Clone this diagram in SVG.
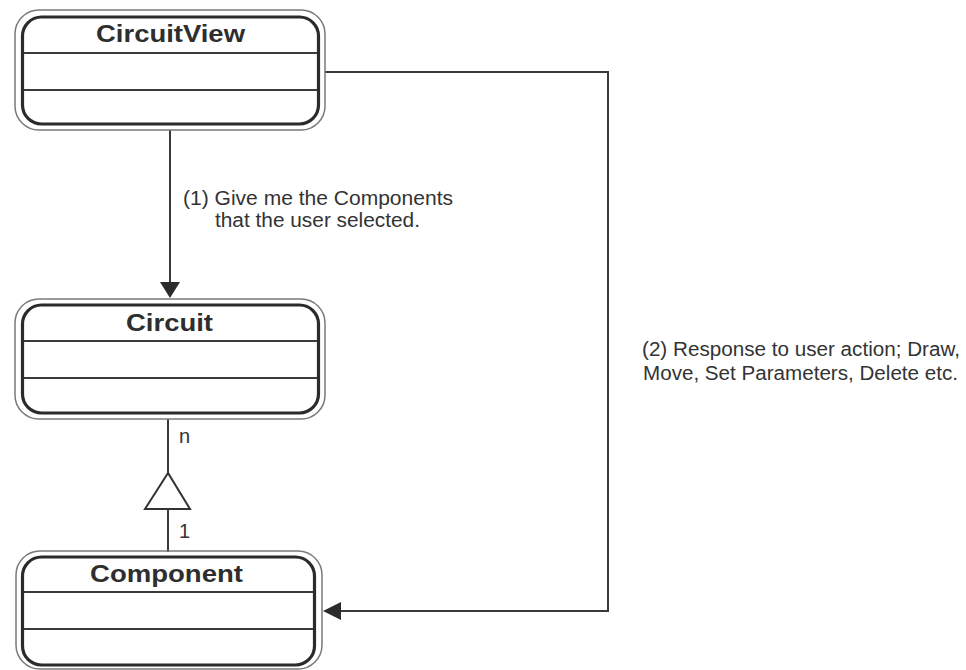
<svg xmlns="http://www.w3.org/2000/svg" width="966" height="670" viewBox="0 0 966 670">
  <style>
    .outer { fill: none; stroke: #7a7a7a; stroke-width: 1.5; }
    .inner { fill: #ffffff; stroke: #2b2b2b; stroke-width: 3.2; }
    .divider { stroke: #3a3a3a; stroke-width: 1.8; }
    .title { font-family: "Liberation Sans", Arial, sans-serif; font-weight: bold; font-size: 23px; fill: #2e2e2e; }
    .label { font-family: "Liberation Sans", Arial, sans-serif; font-size: 20px; fill: #333333; }
    .wire { fill: none; stroke: #3a3a3a; stroke-width: 2; }
    .head { fill: #2b2b2b; stroke: none; }
    .gen { fill: #ffffff; stroke: #333333; stroke-width: 2; }
  </style>
  <rect width="966" height="670" fill="#ffffff"/>

  <!-- connectors -->
  <g id="connectors">
    <!-- (1) CircuitView -> Circuit -->
    <line class="wire" x1="170" y1="130" x2="170" y2="284"/>
    <polygon class="head" points="160,282 180,282 170,298"/>
    <!-- (2) CircuitView -> Component -->
    <polyline class="wire" points="325,72 608,72 608,611 338,611"/>
    <polygon class="head" points="323,611 341,602 341,620"/>
    <!-- Circuit 1..n Component generalization -->
    <line class="wire" x1="168" y1="419" x2="168" y2="473"/>
    <polygon class="gen" points="168,473 145,509 190,509"/>
    <line class="wire" x1="168" y1="509" x2="168" y2="552"/>
    <text class="label" x="179" y="443" font-size="19">n</text>
    <text class="label" x="179" y="538" font-size="19">1</text>
    <text class="label" x="183" y="205" textLength="270" lengthAdjust="spacingAndGlyphs">(1) Give me the Components</text>
    <text class="label" x="215" y="227" textLength="205" lengthAdjust="spacingAndGlyphs">that the user selected.</text>
    <text class="label" x="642" y="356" textLength="318" lengthAdjust="spacingAndGlyphs">(2) Response to user action; Draw,</text>
    <text class="label" x="643" y="380" textLength="315" lengthAdjust="spacingAndGlyphs">Move, Set Parameters, Delete etc.</text>
  </g>

  <!-- CircuitView class -->
  <g id="circuitview">
    <rect class="outer" x="15" y="10" width="310" height="120" rx="24"/>
    <rect class="inner" x="22.5" y="17" width="296" height="107" rx="19"/>
    <line class="divider" x1="24" y1="53" x2="317" y2="53"/>
    <line class="divider" x1="24" y1="90" x2="317" y2="90"/>
    <text class="title" x="96" y="42" textLength="149" lengthAdjust="spacingAndGlyphs">CircuitView</text>
  </g>

  <!-- Circuit class -->
  <g id="circuit">
    <rect class="outer" x="15" y="299" width="310" height="120" rx="24"/>
    <rect class="inner" x="22.5" y="305" width="296" height="108" rx="19"/>
    <line class="divider" x1="24" y1="341" x2="317" y2="341"/>
    <line class="divider" x1="24" y1="378" x2="317" y2="378"/>
    <text class="title" x="126" y="331" textLength="87" lengthAdjust="spacingAndGlyphs">Circuit</text>
  </g>

  <!-- Component class -->
  <g id="component">
    <rect class="outer" x="16" y="551" width="306" height="118" rx="24"/>
    <rect class="inner" x="22.5" y="557" width="292" height="108" rx="19"/>
    <line class="divider" x1="24" y1="592" x2="313" y2="592"/>
    <line class="divider" x1="24" y1="629" x2="313" y2="629"/>
    <text class="title" x="90" y="582" textLength="153" lengthAdjust="spacingAndGlyphs">Component</text>
  </g>
</svg>
